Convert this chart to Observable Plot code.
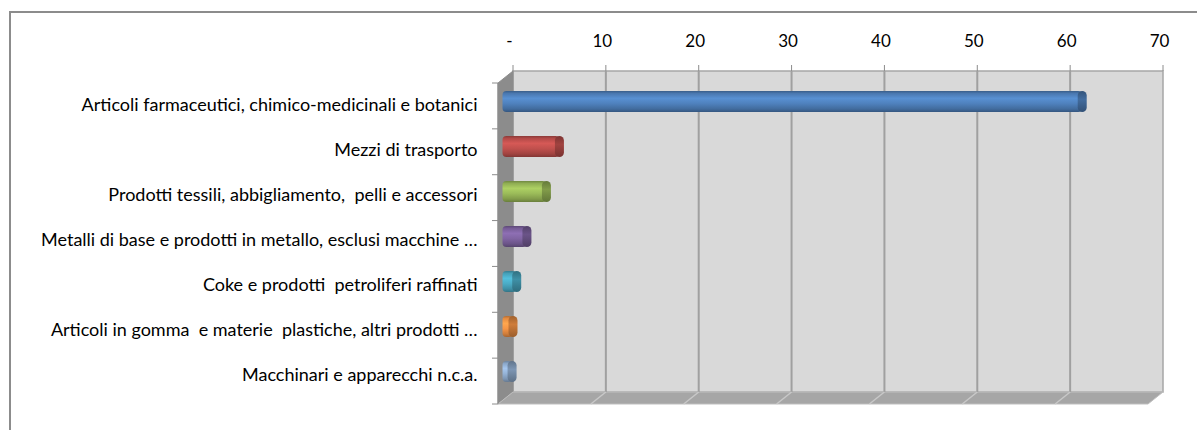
<!DOCTYPE html>
<html>
<head>
<meta charset="utf-8">
<script src="https://cdn.jsdelivr.net/npm/d3@7"></script>
<script src="https://cdn.jsdelivr.net/npm/@observablehq/plot@0.6"></script>
<style>
  html, body { margin: 0; padding: 0; background: #fff; }
  #wrap { position: relative; width: 1197px; height: 430px; overflow: hidden; }
  #frame { position: absolute; left: 9px; top: 11px; width: 1300px; height: 500px;
           border-left: 2px solid #8c8c8c; border-top: 2px solid #8c8c8c; pointer-events: none; }
</style>
</head>
<body>
<div id="wrap"><div id="chart"></div><div id="frame"></div></div>
<script>
// ---- data ----
const categories = [
  "Articoli farmaceutici, chimico-medicinali e botanici",
  "Mezzi di trasporto",
  "Prodotti tessili, abbigliamento,  pelli e accessori",
  "Metalli di base e prodotti in metallo, esclusi macchine …",
  "Coke e prodotti  petroliferi raffinati",
  "Articoli in gomma  e materie  plastiche, altri prodotti …",
  "Macchinari e apparecchi n.c.a."
];
const values = [62.0, 5.7, 4.3, 2.2, 1.1, 0.7, 0.6];
const colors = ["#4f81bd", "#c0504d", "#9bbb59", "#8064a2", "#4bacc6", "#f79646", "#95b3d7"];
const tickValues = [0, 10, 20, 30, 40, 50, 60, 70];
const tickLabels = ["-", "10", "20", "30", "40", "50", "60", "70"];

const rows = categories.map((c, i) => ({cat: c, value: values[i], i}));

const FONT = "Lato, 'Liberation Sans', sans-serif";
const DX = -15, DY = 12; // 3D depth offset (front vs back wall)

function decor(index, scales, vals, dim) {
  const ns = "http://www.w3.org/2000/svg";
  const g = document.createElementNS(ns, "g");
  const el = (tag, attrs) => { const e = document.createElementNS(ns, tag); for (const k in attrs) e.setAttribute(k, attrs[k]); g.appendChild(e); return e; };
  const {width, height, marginLeft, marginRight, marginTop, marginBottom} = dim;
  const x = typeof scales.x === "function" ? scales.x : (v) => marginLeft + v / 70 * (width - marginLeft - marginRight);
  const x0 = x(0), x1 = x(70);
  const top = marginTop, bot = height - marginBottom;
  // gradients
  const defs = el("defs", {});
  colors.forEach((c, i) => {
    const base = d3.color(c);
    const lg = document.createElementNS(ns, "linearGradient");
    lg.setAttribute("id", "cyl" + i); lg.setAttribute("x1", 0); lg.setAttribute("y1", 0); lg.setAttribute("x2", 0); lg.setAttribute("y2", 1);
    [[0, base.darker(0.9)], [0.12, base.darker(0.2)], [0.35, base.brighter(0.3)], [0.6, base], [0.85, base.darker(0.5)], [1, base.darker(1.1)]].forEach(([o, col]) => {
      const s = document.createElementNS(ns, "stop"); s.setAttribute("offset", o); s.setAttribute("stop-color", col.formatHex()); lg.appendChild(s);
    });
    defs.appendChild(lg);
    const lg2 = document.createElementNS(ns, "linearGradient");
    lg2.setAttribute("id", "cap" + i); lg2.setAttribute("x1", 0); lg2.setAttribute("y1", 0); lg2.setAttribute("x2", 0); lg2.setAttribute("y2", 1);
    [[0, base.darker(1.2)], [0.4, base.darker(0.5)], [1, base.darker(1.3)]].forEach(([o, col]) => {
      const s = document.createElementNS(ns, "stop"); s.setAttribute("offset", o); s.setAttribute("stop-color", col.formatHex()); lg2.appendChild(s);
    });
    defs.appendChild(lg2);
  });
  // back wall
  el("rect", {x: x0, y: top, width: x1 - x0, height: bot - top, fill: "#d9d9d9", stroke: "#a6a6a6", "stroke-width": 1.5});
  // side wall
  el("polygon", {points: `${x0},${top} ${x0},${bot} ${x0 + DX},${bot + DY} ${x0 + DX},${top + DY}`, fill: "#8c8c8c", stroke: "#8c8c8c", "stroke-width": 1});
  // floor
  el("polygon", {points: `${x0},${bot} ${x1},${bot} ${x1 + DX},${bot + DY} ${x0 + DX},${bot + DY}`, fill: "#a6a6a6", stroke: "#bfbfbf", "stroke-width": 1});
  // gridlines + top ticks
  tickValues.forEach(v => {
    const xv = x(v);
    if (v > 0 && v < 70) {
      el("line", {x1: xv, x2: xv, y1: top, y2: bot, stroke: "#a0a0a0", "stroke-width": 2});
      el("line", {x1: xv, x2: xv + DX, y1: bot, y2: bot + DY, stroke: "#c8c8c8", "stroke-width": 1.5});
    }
    el("line", {x1: xv, x2: xv, y1: top - 6, y2: top, stroke: "#8c8c8c", "stroke-width": 1});
  });
  // left category ticks (front edge)
  const n = categories.length, step = (bot - top) / n;
  for (let k = 0; k <= n; k++) {
    const yy = top + k * step + DY;
    el("line", {x1: x0 + DX - 6, x2: x0 + DX, y1: yy, y2: yy, stroke: "#8c8c8c", "stroke-width": 1});
  }
  el("line", {x1: x0 + DX, x2: x0 + DX, y1: top + DY, y2: bot + DY, stroke: "#8c8c8c", "stroke-width": 1});
  return g;
}

const chart = Plot.plot({
  width: 1197,
  height: 430,
  marginLeft: 513,
  marginRight: 34,
  marginTop: 71,
  marginBottom: 38,
  x: {domain: [0, 70], axis: null},
  y: {domain: categories, axis: null, padding: 0},
  color: {type: "identity"},
  style: {fontFamily: FONT, background: "transparent", overflow: "visible"},
  marks: [
    decor,
    Plot.barX(rows, {x1: 0, x2: "value", y: "cat", fill: d => "url(#cyl" + d.i + ")",
      insetTop: 12, insetBottom: 12, insetLeft: -4, rx: 4, dx: DX / 2 + 1, dy: DY / 2 - 1}),
    Plot.barX(rows, {x1: "value", x2: "value", y: "cat", fill: d => "url(#cap" + d.i + ")",
      insetTop: 12, insetBottom: 12, insetLeft: -4.5, insetRight: -4.5, rx: 4.5, dx: DX / 2 + 1, dy: DY / 2 - 1}),
    Plot.text(tickValues, {x: d => d, frameAnchor: "top", dy: -37, dx: -4,
      text: (d, i) => tickLabels[i], fontSize: 17, fill: "#000"}),
    Plot.text(categories, {y: d => d, frameAnchor: "left", textAnchor: "end", dx: -36, dy: 8,
      text: d => d, fontSize: 18, fill: "#000"})
  ]
});
document.getElementById("chart").appendChild(chart);
</script>
</body>
</html>
